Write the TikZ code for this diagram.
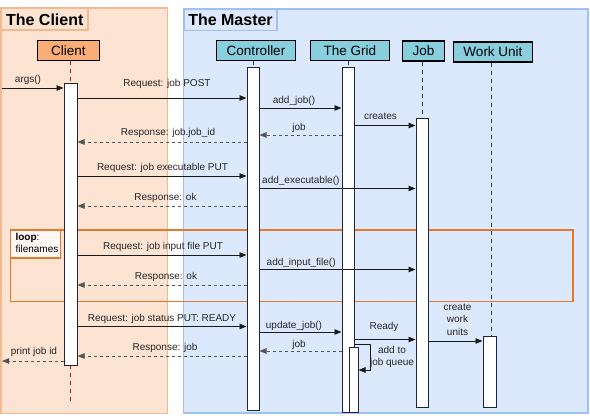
\documentclass[tikz,border=0pt]{standalone}
\usepackage{fontspec}
\setmainfont{Liberation Sans}
\usetikzlibrary{arrows.meta}
\definecolor{clientfill}{HTML}{FDE3D1}
\definecolor{clientline}{HTML}{F6B88E}
\definecolor{masterfill}{HTML}{DCE8FC}
\definecolor{masterline}{HTML}{9EC0F2}
\definecolor{headorange}{HTML}{FAAD76}
\definecolor{headteal}{HTML}{88CEDD}
\definecolor{loopline}{HTML}{E3782F}
\definecolor{lifered}{HTML}{A2202A}
\definecolor{lifeblue}{HTML}{1F3C74}
\definecolor{barline}{HTML}{1E2638}
\definecolor{labeltext}{HTML}{262626}
\definecolor{msgline}{HTML}{1A1A1A}
\definecolor{replyline}{HTML}{555555}
\begin{document}
\begin{tikzpicture}[x=1pt,y=-1pt,
    every node/.style={font=\fontsize{10}{12.5}\selectfont,text=labeltext},
    region/.style={line width=1.5pt},
    title/.style={draw,region,anchor=north west,inner sep=0pt,text=black,
        font=\bfseries\fontsize{16}{19}\selectfont},
    head/.style={draw=black,line width=1.3pt,fill=headteal,minimum height=20pt,
        inner sep=0pt,text=black,font=\fontsize{13.5}{16}\selectfont},
    bar/.style={draw=barline,line width=1pt,fill=white,minimum width=12pt,inner sep=0pt},
    life/.style={draw=lifeblue,line width=1pt,dash pattern=on 4pt off 4pt},
    msg/.style={draw=msgline,line width=0.8pt,-{Triangle[length=7pt,width=5.5pt]}},
    reply/.style={msg,draw=replyline,dash pattern=on 3pt off 3pt}]
    \useasboundingbox (0,0) rectangle (590,420);
    % the two regions
    \draw [region,draw=clientline,fill=clientfill] (0.75,8) rectangle (167.5,413.5);
    \draw [region,draw=masterline,fill=masterfill] (183.5,9) rectangle (588,413);
    \path (0.75,8) node[title,draw=clientline,minimum width=86.5pt,minimum height=21.5pt] (clienttitle) {The Client};
    \path (183.5,9) node[title,draw=masterline,minimum width=92.5pt,minimum height=21pt] (mastertitle) {The Master};
    % loop frame
    \draw [loopline,line width=1.2pt] (10.5,230) rectangle (573,301.5);
    \draw [loopline,line width=1.2pt,fill=white,fill opacity=0.75] (10.5,230) rectangle (60.5,258);
    \node[anchor=west,align=left,text=black] (looplabel) at (12,243) {\textbf{loop}:\\filenames};
    % participants
    \path (68.5,50.5) node[head,fill=headorange,minimum width=62pt] (cli) {Client};
    \path (256,50.5) node[head,minimum width=79pt] (ctrl) {Controller};
    \path (350,50.5) node[head,minimum width=79pt] (grid) {The Grid};
    \path (423.5,51) node[head,minimum width=42.5pt] (job) {Job};
    \path (493,52) node[head,minimum width=79.5pt] (wu) {Work Unit};
    % lifelines
    \coordinate (cliend) at (70.5,403);
    \draw [life,draw=lifered] (70.5,0 |- cli.south) -- (70.5,84);
    \draw [life,draw=lifered] (70.5,365) -- (cliend);
    \draw [life] (253,0 |- ctrl.south) -- (253,68);
    \draw [life] (348,0 |- grid.south) -- (348,68);
    \draw [life] (422,0 |- job.south) -- (422,119);
    \draw [life] (491,0 |- wu.south) -- (491,336);
    % activations
    \path (70.5,224.5) node[bar,minimum width=13pt,minimum height=281pt] (clibar) {};
    \path (253,239) node[bar,minimum height=342pt] (ctrlbar) {};
    \path (348,240) node[bar,minimum height=344pt] (gridbar) {};
    \path (353.5,379.5) node[bar,minimum width=9pt,minimum height=65pt] (gridbar2) {};
    \path (422,263) node[bar,minimum height=288pt] (jobbar) {};
    \path (489.5,371.5) node[bar,minimum width=13pt,minimum height=71pt] (wubar) {};
    % messages
    \coordinate (argsin) at (2,88);
    \coordinate (printout) at (2,361);
    \draw [msg] (argsin) -- (clibar.west |- argsin);
    \node (largs) at (28,80) {args()};
    \draw [msg] (clibar.east |- 0,98) -- (ctrlbar.west |- 0,98);
    \node (lpost) at (167,84) {Request: job POST};
    \draw [msg] (ctrlbar.east |- 0,108) -- (gridbar.west |- 0,108);
    \node (laddjob) at (294,101) {add\_job()};
    \draw [msg] (gridbar.east |- 0,125.5) -- (jobbar.west |- 0,125.5);
    \node (lcreates) at (380.5,116.5) {creates};
    \draw [reply] (gridbar.west |- 0,135) -- (ctrlbar.east |- 0,135);
    \node (ljob) at (299,128) {job};
    \draw [reply] (ctrlbar.west |- 0,142) -- (clibar.east |- 0,142);
    \node (ljobid) at (168,132.5) {Response: job.job\_id};
    \draw [msg] (clibar.east |- 0,176) -- (ctrlbar.west |- 0,176);
    \node (lexec) at (162.5,168) {Request: job executable PUT};
    \draw [msg] (ctrlbar.east |- 0,188.5) -- (jobbar.west |- 0,188.5);
    \node[anchor=west,inner xsep=0pt] (laddexec) at (262,181) {add\_executable()};
    \draw [reply] (ctrlbar.west |- 0,206) -- (clibar.east |- 0,206);
    \node (lok) at (165.5,198) {Response: ok};
    \draw [msg] (clibar.east |- 0,255) -- (ctrlbar.west |- 0,255);
    \node (linput) at (163,247) {Request: job input file PUT};
    \draw [msg] (ctrlbar.east |- 0,269.5) -- (jobbar.west |- 0,269.5);
    \node[anchor=west,inner xsep=0pt] (laddinput) at (266.5,262.5) {add\_input\_file()};
    \draw [reply] (ctrlbar.west |- 0,285) -- (clibar.east |- 0,285);
    \node (lok2) at (166,277) {Response: ok};
    \draw [msg] (clibar.east |- 0,326.5) -- (ctrlbar.west |- 0,326.5);
    \node (lready) at (162,318.5) {Request: job status PUT: READY};
    \draw [msg] (ctrlbar.east |- 0,332) -- (gridbar.west |- 0,332);
    \node (lupdate) at (294,326) {update\_job()};
    \draw [msg] (gridbar.east |- 0,339.5) -- (jobbar.west |- 0,339.5);
    \node (lready2) at (384,327) {Ready};
    \draw [reply] (gridbar.west |- 0,351) -- (ctrlbar.east |- 0,351);
    \node (ljob2) at (299,344.5) {job};
    \draw [reply] (ctrlbar.west |- 0,356) -- (clibar.east |- 0,356);
    \node (lresp) at (165,348) {Response: job};
    \draw [reply] (clibar.west |- printout) -- (printout);
    \node (lprint) at (34,352) {print job id};
    \draw [msg] (gridbar.east |- 0,344) -- ++(15.5,0) |- (gridbar2.east |- 0,370);
    \node[align=center] (lqueue) at (392,357) {add to\\job queue};
    \draw [msg] (jobbar.east |- 0,341) -- (wubar.west |- 0,341);
    \node[align=center] (lunits) at (457.5,319.5) {create\\work\\units};
\end{tikzpicture}
\end{document}
